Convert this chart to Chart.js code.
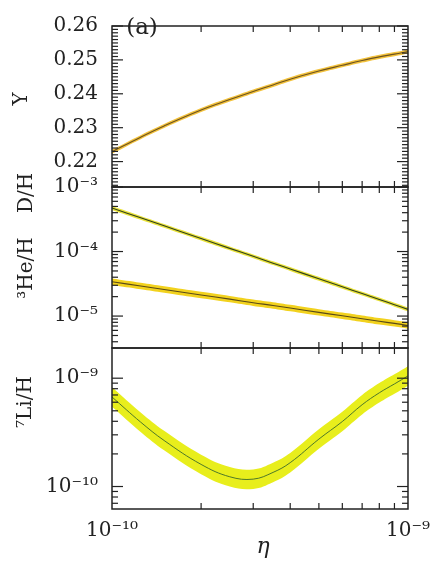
<!DOCTYPE html>
<html>
<head>
<meta charset="utf-8">
<script src="https://cdn.jsdelivr.net/npm/chart.js@4.4.1/dist/chart.umd.min.js"></script>
<style>
  html, body { margin: 0; padding: 0; background: #fff; }
  #wrap { position: relative; width: 440px; height: 563px; }
</style>
</head>
<body>
<div id="wrap"><canvas id="bbn" width="440" height="563"></canvas></div>
<script>
// eta grid, in units of 1e-10
const etaGrid = [1, 1.25, 1.5, 2, 2.5, 3, 3.5, 4, 5, 6, 7, 8, 9, 10];

// abundances
const heliumY = [0.2229, 0.2272, 0.2305, 0.2352, 0.2383, 0.2407, 0.2426, 0.2443, 0.2467, 0.2484, 0.2498, 0.2509, 0.2517, 0.2525];
const deuteriumH = [4.72e-4, 3.33e-4, 2.50e-4, 1.59e-4, 1.12e-4, 8.43e-5, 6.6e-5, 5.37e-5, 3.78e-5, 2.84e-5, 2.23e-5, 1.81e-5, 1.50e-5, 1.27e-5];
const helium3H = [3.40e-5, 2.92e-5, 2.58e-5, 2.12e-5, 1.83e-5, 1.61e-5, 1.46e-5, 1.33e-5, 1.14e-5, 1.01e-5, 9.1e-6, 8.3e-6, 7.7e-6, 7.15e-6];
const lithium7H = [6.71e-10, 3.93e-10, 2.66e-10, 1.60e-10, 1.23e-10, 1.17e-10, 1.35e-10, 1.66e-10, 2.74e-10, 3.98e-10, 5.69e-10, 7.33e-10, 8.85e-10, 1.05e-9];

// half widths of the yellow bands (Y absolute, the others in dex)
const bandY = 0.0006;
const bandD = 0.03;
const bandHe3 = 0.05;
const bandLi = 0.09;

// tick labels
const xTicks = [1e-10, 1e-9];
const xTickLabels = ['10⁻¹⁰', '10⁻⁹'];
const yTicksY = [0.22, 0.23, 0.24, 0.25, 0.26];
const yTicksD = [1e-5, 1e-4, 1e-3];
const yTicksDLabels = ['10⁻⁵', '10⁻⁴', '10⁻³'];
const yTicksLi = [1e-10, 1e-9];
const yTicksLiLabels = ['10⁻¹⁰', '10⁻⁹'];

const serif = "'DejaVu Serif', 'Liberation Serif', serif";
const ink = '#222';

function pts(vals, f) {
  return etaGrid.map((e, i) => ({ x: e * 1e-10, y: f ? f(vals[i]) : vals[i] }));
}

// upper edge, lower edge filled to it, then the central line on top
function band(vals, axis, up, lo, color, lineColor, lw) {
  const base = { yAxisID: axis, pointRadius: 0, borderWidth: 0, tension: 0.4 };
  return [
    Object.assign({}, base, { data: pts(vals, up), fill: false, borderColor: 'rgba(0,0,0,0)', order: 2 }),
    Object.assign({}, base, { data: pts(vals, lo), fill: '-1', backgroundColor: color, borderColor: 'rgba(0,0,0,0)', order: 2 }),
    Object.assign({}, base, { data: pts(vals), fill: false, borderColor: lineColor, borderWidth: lw, order: 1 })
  ];
}

const dex = d => v => v * Math.pow(10, d);

const datasets = [].concat(
  band(heliumY, 'yY', v => v + bandY, v => v - bandY, '#f3c23c', '#6b5220', 1.1),
  band(deuteriumH, 'yD', dex(bandD), dex(-bandD), '#e9e23a', '#2f3f1c', 1.1),
  band(helium3H, 'yD', dex(bandHe3), dex(-bandHe3), '#f2d21e', '#5a4a18', 1.1),
  band(lithium7H, 'yL', dex(bandLi), dex(-bandLi), '#e8ee1c', '#3c6a2a', 0.9)
);

function yAxis(extra) {
  return Object.assign({
    position: 'left',
    stack: 'panels',
    stackWeight: 1,
    grid: { display: false, drawTicks: false },
    border: { display: false },
    afterFit: s => { s.width = 112; }
  }, extra);
}

// minor tick positions for each panel
function logMinors(lo, hi) {
  const out = [];
  for (let d = Math.floor(Math.log10(lo)); d <= Math.ceil(Math.log10(hi)); d++) {
    for (let k = 2; k <= 9; k++) {
      const v = k * Math.pow(10, d);
      if (v > lo && v < hi) out.push(v);
    }
  }
  return out;
}
const minorsY = [];
for (let k = 213; k < 260; k++) if (k % 10) minorsY.push(k / 1000);

const panels = [
  { id: 'yY', major: yTicksY, minor: minorsY },
  { id: 'yD', major: yTicksD, minor: logMinors(3.2e-6, 1e-3) },
  { id: 'yL', major: yTicksLi, minor: logMinors(6.2e-11, 1.9e-9) }
];

const frameTicks = {
  id: 'frameTicks',
  afterDraw(chart) {
    const ctx = chart.ctx;
    const xs = chart.scales.x;
    const L = chart.chartArea.left, R = chart.chartArea.right;
    const seg = (x1, y1, x2, y2) => { ctx.beginPath(); ctx.moveTo(x1, y1); ctx.lineTo(x2, y2); ctx.stroke(); };
    ctx.save();
    ctx.strokeStyle = ink;
    panels.forEach(p => {
      const s = chart.scales[p.id];
      ctx.lineWidth = 1.5;
      ctx.strokeRect(L, s.top, R - L, s.bottom - s.top);
      ctx.lineWidth = 1.2;
      p.major.forEach(v => {
        const y = s.getPixelForValue(v);
        seg(L, y, L + 11, y); seg(R, y, R - 11, y);
      });
      p.minor.forEach(v => {
        const y = s.getPixelForValue(v);
        seg(L, y, L + 6, y); seg(R, y, R - 6, y);
      });
      logMinors(1e-10, 1e-9).forEach(v => {
        const x = xs.getPixelForValue(v);
        seg(x, s.top, x, s.top + 6); seg(x, s.bottom, x, s.bottom - 6);
      });
    });

    // axis titles
    ctx.fillStyle = ink;
    ctx.textAlign = 'center';
    ctx.textBaseline = 'middle';
    ctx.font = '20px ' + serif;
    const vtext = (t, x, y) => {
      ctx.save(); ctx.translate(x, y); ctx.rotate(-Math.PI / 2); ctx.fillText(t, 0, 0); ctx.restore();
    };
    vtext('Y', 22, 99);
    vtext('D/H', 27, 193);
    vtext('³He/H', 27, 268);
    vtext('⁷Li/H', 26, 402);
    ctx.font = '23px ' + serif;
    ctx.fillText('(a)', 142, 28);
    ctx.font = 'italic 22px ' + serif;
    ctx.fillText('η', 263, 547);
    ctx.restore();
  }
};

const tickFont = { family: serif, size: 20 };

new Chart(document.getElementById('bbn'), {
  type: 'line',
  data: { datasets: datasets },
  options: {
    responsive: false,
    animation: false,
    layout: { padding: { top: 14, right: 25, bottom: 0, left: 0 } },
    plugins: { legend: { display: false }, tooltip: { enabled: false } },
    scales: {
      x: {
        type: 'logarithmic',
        min: 1e-10,
        max: 1e-9,
        position: 'bottom',
        grid: { display: false, drawTicks: false },
        border: { display: false },
        afterBuildTicks: s => { s.ticks = xTicks.map(v => ({ value: v })); },
        ticks: {
          font: tickFont, color: ink, padding: 10,
          maxRotation: 0, autoSkip: false,
          callback: (v, i) => xTickLabels[i]
        },
        afterFit: s => { s.height = 54; }
      },
      yY: yAxis({
        type: 'linear', min: 0.2125, max: 0.26, weight: 3,
        afterBuildTicks: s => { s.ticks = yTicksY.map(v => ({ value: v })); },
        ticks: { font: tickFont, color: ink, padding: 14, autoSkip: false, callback: v => v.toFixed(2) }
      }),
      yD: yAxis({
        type: 'logarithmic', min: 3.2e-6, max: 1e-3, weight: 2,
        afterBuildTicks: s => { s.ticks = yTicksD.map(v => ({ value: v })); },
        ticks: { font: tickFont, color: ink, padding: 14, autoSkip: false, callback: (v, i) => yTicksDLabels[i] }
      }),
      yL: yAxis({
        type: 'logarithmic', min: 6.2e-11, max: 1.9e-9, weight: 1,
        afterBuildTicks: s => { s.ticks = yTicksLi.map(v => ({ value: v })); },
        ticks: { font: tickFont, color: ink, padding: 14, autoSkip: false, callback: (v, i) => yTicksLiLabels[i] }
      })
    }
  },
  plugins: [frameTicks]
});
</script>
</body>
</html>
